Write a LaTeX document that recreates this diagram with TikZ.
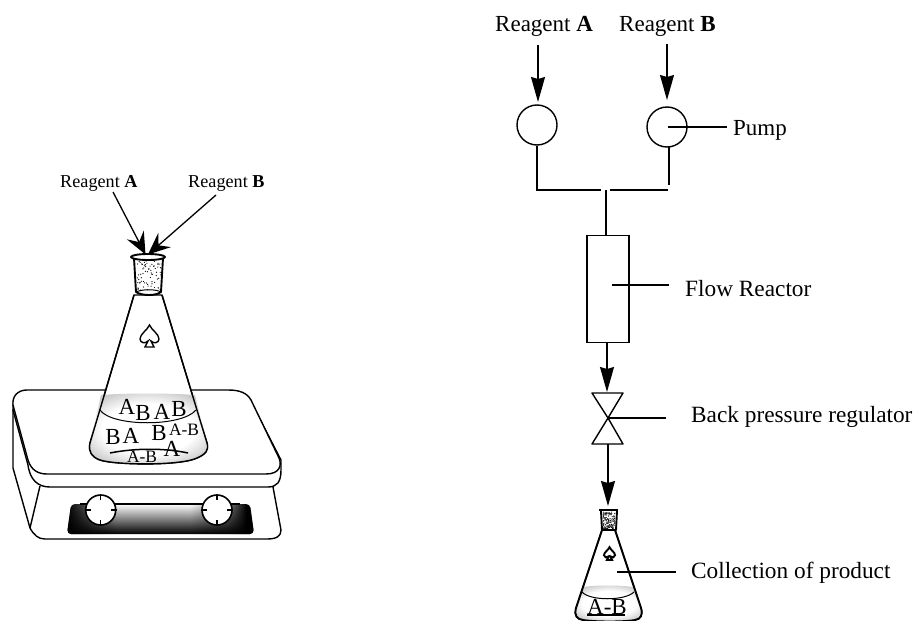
\documentclass[tikz,border=0pt]{standalone}
\usepackage{fontspec}
\setmainfont{Liberation Serif}
\usetikzlibrary{arrows.meta,fadings}
\tikzfading[name=fadebottom,bottom color=transparent!0,middle color=transparent!100,top color=transparent!100]
\pgfdeclareradialshading{liq}{\pgfpoint{0bp}{0bp}}{color(0bp)=(white); color(17bp)=(white); color(27bp)=(black!20); color(100bp)=(black!20)}
\pgfdeclarehorizontalshading{panelgrad}{100bp}{color(0bp)=(black); color(25bp)=(black); color(29bp)=(black!75); color(38bp)=(white); color(58bp)=(white); color(68bp)=(black!50); color(73bp)=(black); color(100bp)=(black)}
\tikzset{
  ln/.style={line width=1.4pt,line join=round},
  thick ln/.style={line width=1.9pt,line join=round},
  conn/.style={line width=1.4pt},
  arr/.style={line width=1.3pt,-{Stealth[length=25pt,width=14pt,inset=2pt]}},
  arrs/.style={line width=1.3pt,-{Stealth[length=22pt,width=19pt,inset=8pt]}},
  lab/.style={inner sep=0pt,font=\fontsize{23.3}{25}\selectfont,anchor=base west},
  labr/.style={inner sep=0pt,font=\fontsize{23}{25}\selectfont,anchor=base west},
  labs/.style={inner sep=0pt,font=\fontsize{18.2}{20}\selectfont,anchor=base west},
  big/.style={inner sep=0pt,font=\fontsize{23}{25}\selectfont},
  small/.style={inner sep=0pt,font=\fontsize{17.4}{19}\selectfont},
  pumpc/.style={circle,draw,line width=1.4pt,minimum size=40pt,inner sep=0pt},
  knobc/.style={circle,draw,line width=1.6pt,fill=white,minimum size=30pt,inner sep=0pt},
}
\newcommand{\spadeshape}[4]{% cx cy scale style
  \begin{scope}[shift={(#1,#2)},scale=#3]
  \draw[#4] (0,-11) .. controls (2,-6) and (9.5,-2) .. (9.5,3)
    .. controls (9.5,7) and (4,8) .. (1.5,5) -- (4.5,11) -- (-4.5,11) -- (-1.5,5)
    .. controls (-4,8) and (-9.5,7) .. (-9.5,3)
    .. controls (-9.5,-2) and (-2,-6) .. (0,-11) -- cycle;
  \end{scope}}
\newcommand{\stipple}[6]{% x0 y0 w h n r
  \pgfmathsetseed{#5}
  \foreach \i in {1,...,#5}{
    \pgfmathsetmacro\dx{#1+rnd*#3}\pgfmathsetmacro\dy{#2+rnd*#4}
    \fill (\dx,\dy) circle (#6pt);}}
\begin{document}
\begin{tikzpicture}[x=1pt,y=-1pt]
\useasboundingbox (0,0) rectangle (913,621);
%% ---- hotplate
\draw[ln,fill=white] (13,403) -- (13,468) -- (30,528)
  .. controls (34,535) and (38,539) .. (45,539) -- (267,539)
  .. controls (277,539) and (281,536) .. (281,530) -- (273,487);
\draw[ln] (40,486) -- (30,528);
\draw[ln,fill=white] (13,410) -- (28,465) .. controls (30,480) and (38,487) .. (50,487)
  -- (268,487) .. controls (277,487) and (281,482) .. (281,470) -- (281,460) -- (250,400) -- cycle;
\draw[ln,fill=white] (27,390) -- (228,390)
  .. controls (240,390) and (247,393) .. (251,400)
  -- (279,458) .. controls (282,465) and (280,474) .. (266,474)
  -- (47,474) .. controls (38,474) and (31,470) .. (28,460)
  -- (13,405) .. controls (12,396) and (18,390) .. (27,390) -- cycle;
%% panel
\shade[rounded corners=4pt,shading=panelgrad]
  (71,504) -- (250,504) -- (254,534) -- (67,534) -- cycle;
\fill[black,rounded corners=4pt,path fading=fadebottom]
  (71,504) -- (250,504) -- (254,534) -- (67,534) -- cycle;
\draw[ln] (80,504) -- (240,504);
\node[knobc] (k1) at (100.7,510) {};
\node[knobc] (k2) at (217,510) {};
\foreach \k in {k1,k2}{
  \draw[line width=1.1pt] (\k.north) -- ++(0,6) (\k.south) -- ++(0,-6)
     (\k.west) -- ++(6,0) (\k.east) -- ++(-6,0);}
%% ---- big flask
\draw[ln,fill=white] (134,295) -- (90,443)
  .. controls (88,452) and (92,457) .. (100,460)
  .. controls (115,465) and (180,466) .. (197,458)
  .. controls (206,454) and (209,450) .. (207,443) -- (162,295) -- cycle;
\begin{scope}
\clip (90,443) .. controls (88,452) and (92,457) .. (100,460)
  .. controls (115,465) and (180,466) .. (197,458)
  .. controls (206,454) and (209,450) .. (207,443) -- (195,395) .. controls (170,393) and (126,393) .. (101,395) -- cycle;
\shade[shading=liq] (80,392) rectangle (216,466);
\end{scope}
\draw[ln] (134,295) -- (90,443)
  .. controls (88,452) and (92,457) .. (100,460)
  .. controls (115,465) and (180,466) .. (197,458)
  .. controls (206,454) and (209,450) .. (207,443) -- (162,295);
\draw[line width=1pt] (100,410) .. controls (112,427) and (182,427) .. (196,410);
\draw[line width=1.5pt] (110,453) .. controls (135,448) and (165,448) .. (188,453);
\node[big] (t1) at (127,407) {A};
\node[big] (t2) at (143,413) {B};
\node[big] (t3) at (162,412) {A};
\node[big] (t4) at (179,409) {B};
\node[big] (t5) at (113,437) {B};
\node[big] (t6) at (131,436) {A};
\node[big] (t7) at (159,433) {B};
\node[small] (t8) at (184,429.5) {A-B};
\node[big] (t9) at (172,449) {A};
\node[small] (t10) at (142,457) {A-B};
\spadeshape{149.5}{336}{1}{line width=1.4pt,fill=white}
% stopper
\draw[thick ln,fill=white] (134,258) -- (136,292) .. controls (142,296) and (156,296) .. (161,292) -- (163,258);
\stipple{137}{261}{24}{29}{70}{0.6}
\draw[line width=1pt] (136,292) .. controls (142,289) and (156,289) .. (161,292);
\draw[thick ln,fill=white] (148,257) ellipse (17 and 3);
%% left labels
\node[labs] (la) at (60,187) {Reagent \textbf{A}};
\node[labs] (lb) at (188,187) {Reagent \textbf{B}};
\coordinate (fa) at (145.5,254.5);
\coordinate (fb) at (148,254.5);
\coordinate (la1) at (113,192);
\coordinate (lb1) at (216,195);
\draw[arrs] (la1) -- (fa);
\draw[arrs] (lb1) -- (fb);
%% ---- right flow
\node[labr] (ra) at (495,31) {Reagent \textbf{A}};
\node[labr] (rb) at (619,31) {Reagent \textbf{B}};
\node[pumpc] (p1) at (537,125) {};
\node[pumpc] (p2) at (667,127) {};
\coordinate (ja) at (538,45); \coordinate (jat) at (538,102);
\coordinate (jb) at (667,44); \coordinate (jbt) at (667,100);
\draw[arr] (ja) -- (jat);
\draw[arr] (jb) -- (jbt);
\coordinate (m1) at (600.5,190);
\coordinate (m2) at (610,190);
\draw[conn] (p1.south) |- (m1);
\draw[conn] (669,146.5) -- (669,185);
\draw[conn] (m2) -- (668,190);
\node[draw,line width=1.4pt,minimum width=42pt,minimum height=107pt,inner sep=0pt] (reactor) at (608,289) {};
\draw[conn] (606,190) -- (606,235);
\node[labr] (pump) at (733,135) {Pump};
\coordinate (pe) at (727,127);
\draw[conn] (668,127) -- (pe);
\node[lab] (fr) at (685,296) {Flow Reactor};
\coordinate (fe) at (669,285);
\coordinate (fs) at (612,285);
\draw[conn] (fs) -- (fe);
% valve
\coordinate (vm) at (608,418);
\coordinate (vt) at (607,392);
\coordinate (vb) at (608,444);
\draw[ln] (592,393) -- (623,393) -- (vm) -- cycle;
\draw[ln] (592,444) -- (623,444) -- (vm) -- cycle;
\draw[arr] (reactor.south) ++(-1,0) -- (vt);
\node[lab] (bp) at (691,422) {Back pressure regulator};
\coordinate (ve) at (666,418);
\draw[conn] (vm) -- (ve);
\coordinate (ft) at (608,506);
\draw[arr] (vb) -- (ft);
% small flask
\begin{scope}
\draw[ln,fill=white] (602,530) -- (576,608)
  .. controls (574,616) and (577,619) .. (583,620)
  .. controls (595,622) and (625,622) .. (635,620)
  .. controls (641,619) and (643,615) .. (641,608) -- (615,530);
\clip (576,608) .. controls (574,616) and (577,619) .. (583,620)
  .. controls (595,622) and (625,622) .. (635,620)
  .. controls (641,619) and (643,615) .. (641,608) -- (633,587) .. controls (620,585) and (595,585) .. (583,587) -- cycle;
\shade[shading=liq] (570,585) rectangle (648,622);
\end{scope}
\draw[thick ln] (602,530) -- (576,608)
  .. controls (574,616) and (577,619) .. (583,620)
  .. controls (595,622) and (625,622) .. (635,620)
  .. controls (641,619) and (643,615) .. (641,608) -- (615,530);
\draw[line width=1pt] (582,592) .. controls (590,601) and (625,601) .. (634,592);
\node[big] (ab) at (607,607) {A-B};
\draw[line width=1.4pt] (587,615) -- (625,615);
\spadeshape{609.5}{553.5}{0.58}{line width=1.9pt,fill=white}
\draw[thick ln,fill=white] (601,511) -- (602,530) -- (616,530) -- (617,511);
\stipple{603}{512}{12}{17}{170}{0.5}
\draw[line width=2.6pt] (599,510) -- (618,510);
\node[lab] (cp) at (691,578) {Collection of product};
\draw[conn] (617,572) -- (676,572);
\end{tikzpicture}
\end{document}
